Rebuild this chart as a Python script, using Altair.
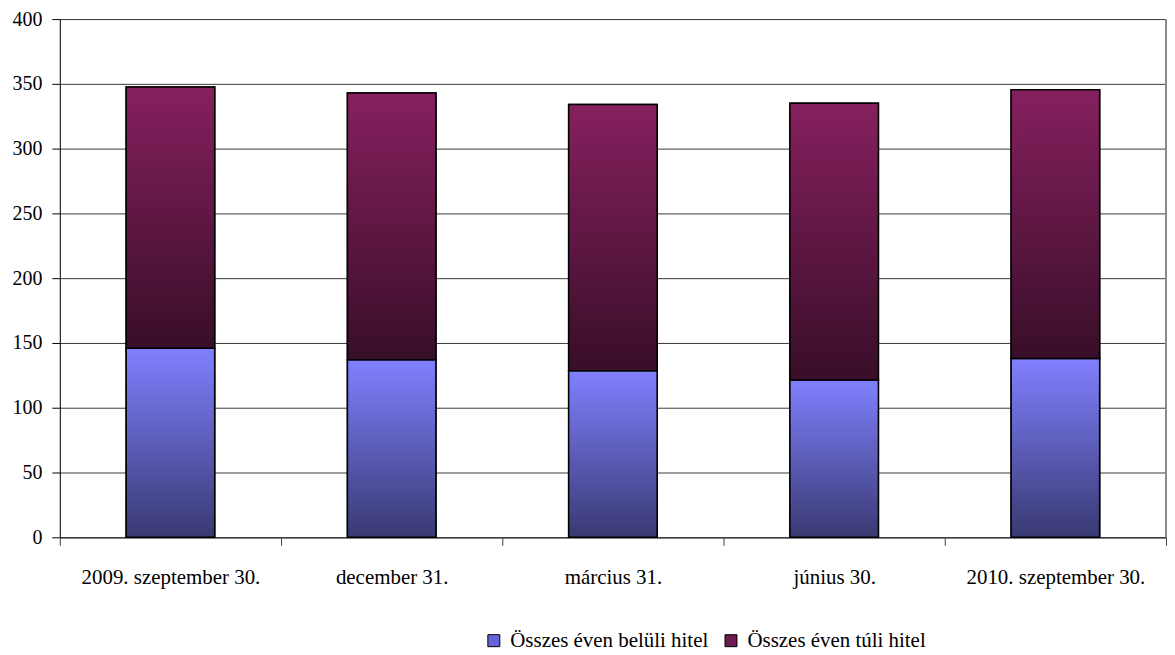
import altair as alt
import pandas as pd

categories = ["2009. szeptember 30.", "december 31.", "március 31.", "június 30.", "2010. szeptember 30."]
series = ["Összes éven belüli hitel", "Összes éven túli hitel"]
within_year = [146, 137, 128.5, 121.5, 138]
beyond_year = [201.5, 206, 205.5, 213.5, 207.5]
y_ticks = [0, 50, 100, 150, 200, 250, 300, 350, 400]

W, H = 1110, 520
FONT = "'Liberation Serif', 'DejaVu Serif', serif"

wide = pd.DataFrame({"cat": categories, "within": within_year, "beyond": beyond_year})
wide["total"] = wide["within"] + wide["beyond"]
long = pd.DataFrame({
    "cat": categories * 2,
    "series": [series[0]] * len(categories) + [series[1]] * len(categories),
    "value": within_year + beyond_year,
    "ord": [0] * len(categories) + [1] * len(categories),
})

x_axis = alt.Axis(title=None, labelAngle=0, tickBand="extent", tickSize=8, tickColor="#404040",
                  domainColor="#404040", domainWidth=1.5, labelPadding=21, labelFontSize=21,
                  labelColor="black", labelFont=FONT, grid=False, labelLimit=0)
xenc = alt.X("cat:N", sort=categories,
             scale=alt.Scale(paddingInner=0, paddingOuter=0), axis=x_axis)
y_scale = alt.Scale(domain=[0, 400], nice=False)
y_axis = alt.Axis(title=None, values=y_ticks, tickSize=8, tickColor="black", domainColor="black",
                  gridColor="#3a3a3a", gridWidth=1, labelFontSize=20, labelPadding=10,
                  labelColor="black", labelFont=FONT)
bar_w = alt.RelativeBandSize(0.4)

legend_layer = alt.Chart(long).mark_bar(stroke="black", strokeWidth=1.5, width=bar_w).encode(
    x=xenc,
    y=alt.Y("value:Q", stack="zero", scale=y_scale, axis=y_axis),
    color=alt.Color("series:N", scale=alt.Scale(domain=series, range=["#6464d8", "#6b1c50"]),
                    legend=alt.Legend(title=None, orient="none", legendX=425, legendY=613,
                                      direction="horizontal", symbolType="square", symbolSize=144,
                                      symbolStrokeColor="black", symbolStrokeWidth=1,
                                      labelFontSize=21, labelFont=FONT, labelColor="black",
                                      labelLimit=0, columnPadding=12, labelOffset=6, padding=0)),
    order=alt.Order("ord:Q"),
)

blue_grad = alt.Gradient(gradient="linear", x1=0, x2=0, y1=1, y2=0,
                         stops=[alt.GradientStop(color="#393972", offset=0),
                                alt.GradientStop(color="#8080ff", offset=1)])
purple_grad = alt.Gradient(gradient="linear", x1=0, x2=0, y1=1, y2=0,
                           stops=[alt.GradientStop(color="#380e28", offset=0),
                                  alt.GradientStop(color="#86205f", offset=1)])

blue_layer = alt.Chart(wide).mark_bar(fill=blue_grad, stroke="black", strokeWidth=1.5,
                                      width=bar_w).encode(
    x=xenc,
    y=alt.Y("within:Q", scale=y_scale, axis=y_axis),
)
purple_layer = alt.Chart(wide).mark_bar(fill=purple_grad, stroke="black", strokeWidth=1.5,
                                        width=bar_w).encode(
    x=xenc,
    y=alt.Y("within:Q", scale=y_scale, axis=y_axis),
    y2="total:Q",
)

border = alt.Chart(pd.DataFrame({"a": [0]})).mark_rule(color="#8c8c8c", strokeWidth=2).encode(
    x=alt.value(W), y=alt.value(0), y2=alt.value(H)
)

chart = alt.layer(legend_layer, blue_layer, purple_layer, border).properties(
    width=W, height=H,
    padding={"left": 4, "top": 0, "right": 0, "bottom": 0},
).configure_view(stroke=None).configure(font=FONT, background="white")

chart.save("out.html", embed_options={"renderer": "svg", "actions": False})
